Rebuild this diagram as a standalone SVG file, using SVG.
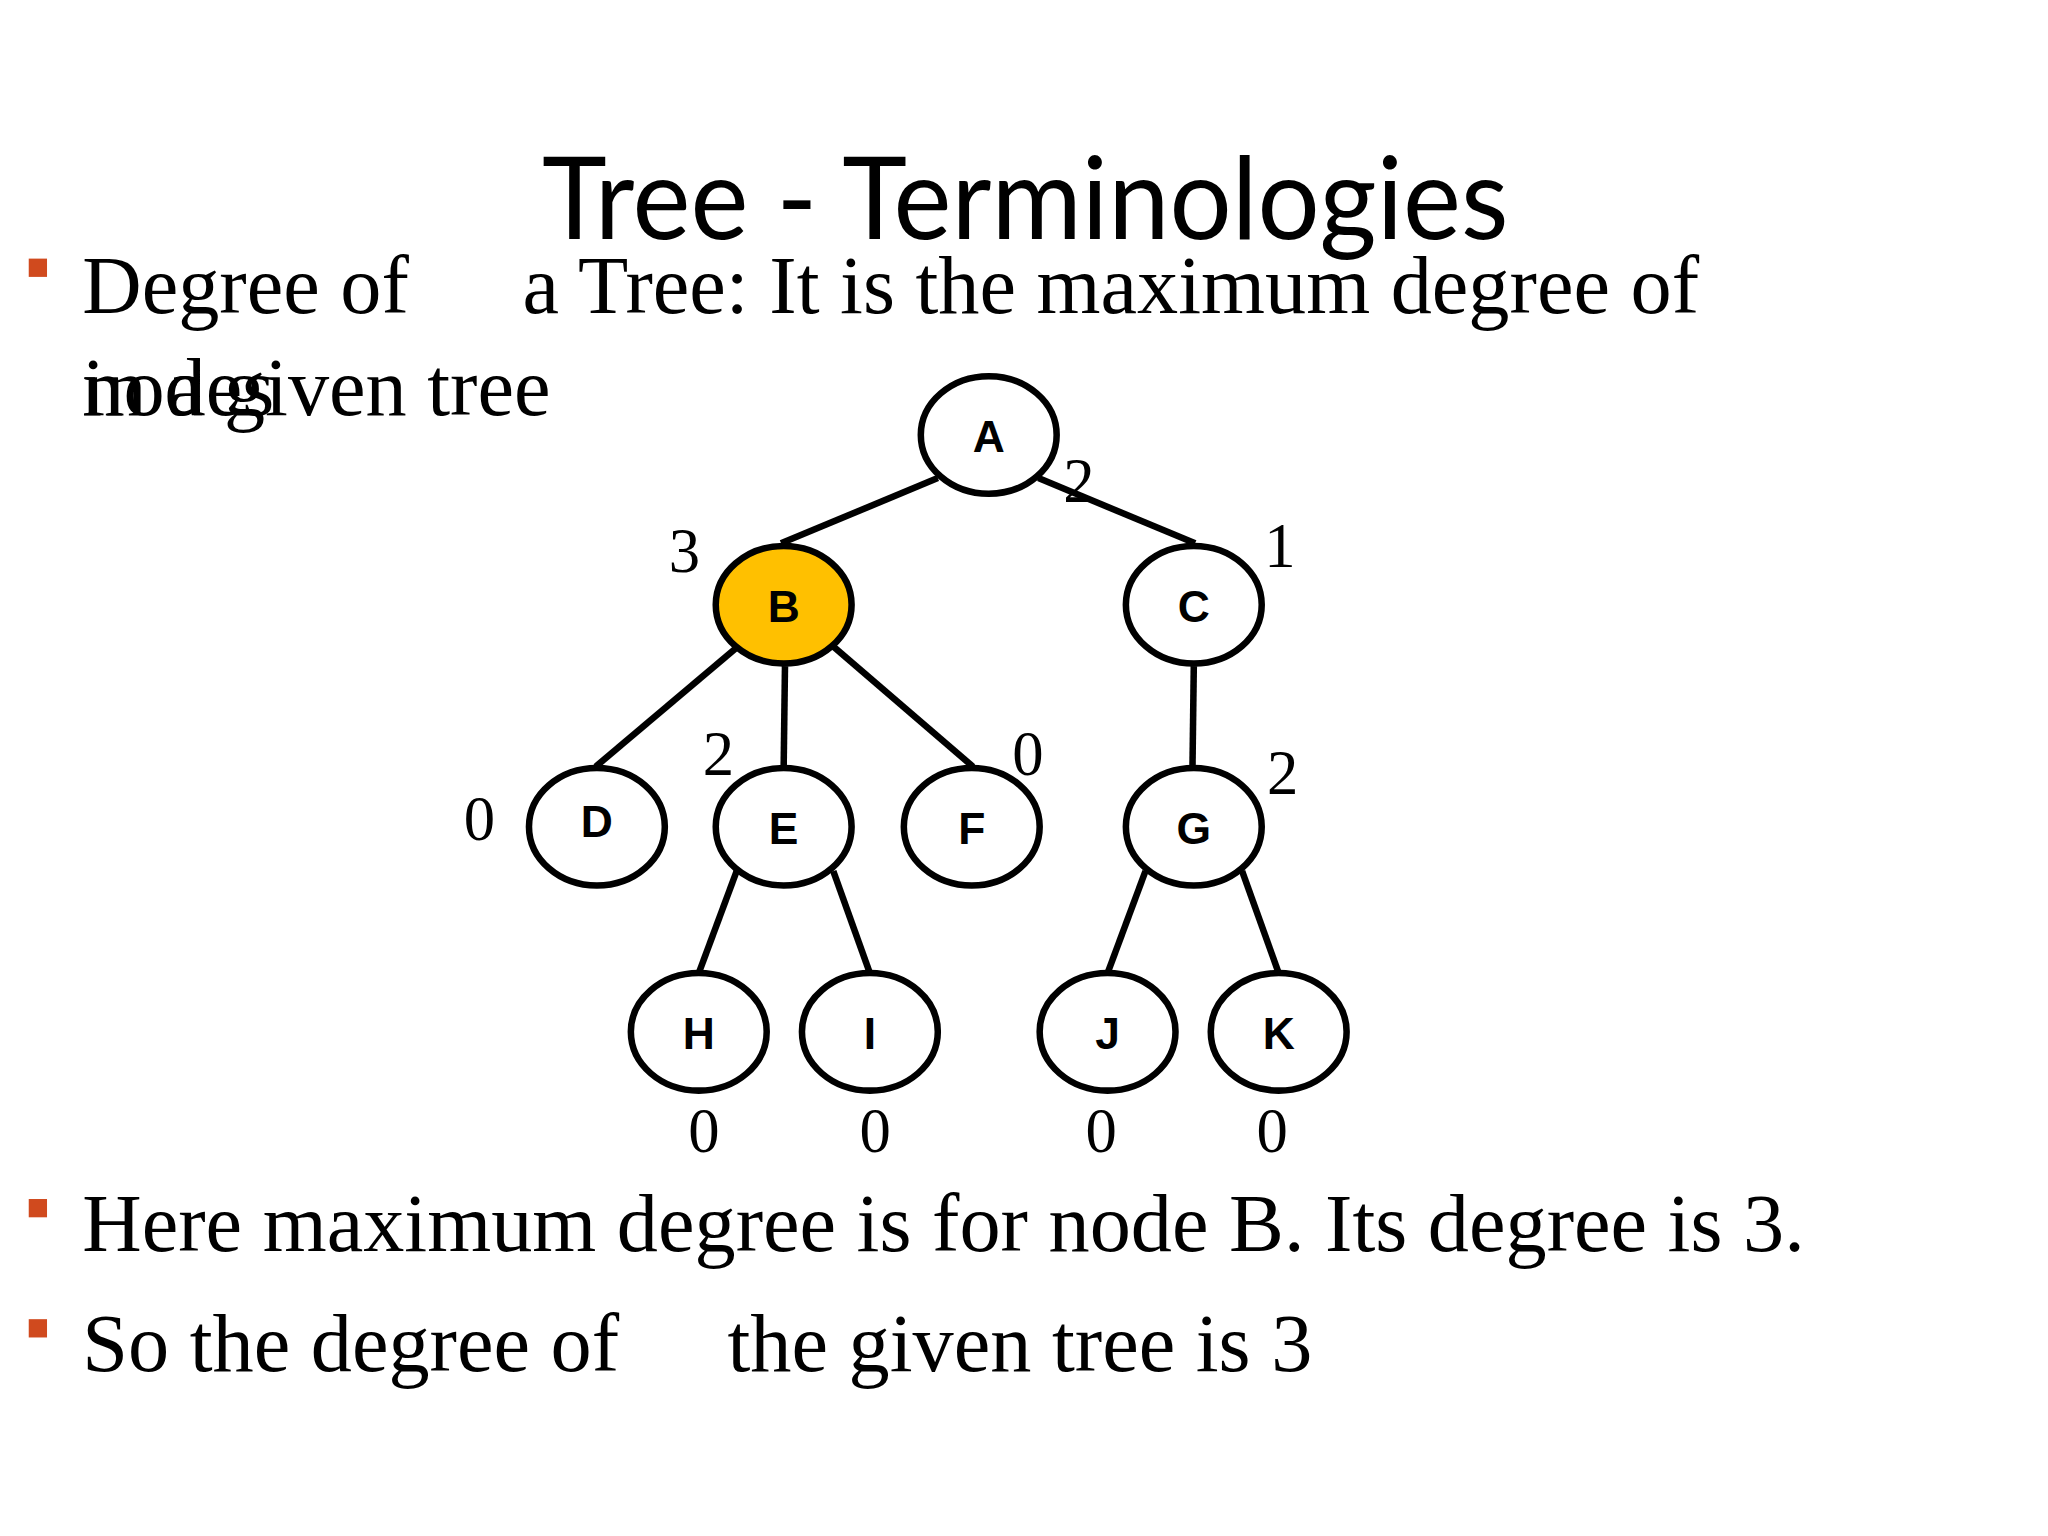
<svg xmlns="http://www.w3.org/2000/svg" width="2048" height="1536" viewBox="0 0 2048 1536">
<style>
.n{fill:#fff;stroke:#000;stroke-width:5}
.l{font-family:"Liberation Sans",Arial,sans-serif;font-weight:bold;font-size:34px;text-anchor:middle}
.d{font-family:"Liberation Serif",serif;font-size:48px;text-anchor:middle}
.t{font-family:"Liberation Serif",serif;font-size:63px}
.e{stroke:#000;stroke-width:5}
.b{fill:#D04A1E}
</style>
<rect width="2048" height="1536" fill="#fff"/>
<g transform="scale(1.30612)">
<text x="785" y="183" font-family="Lato,Open Sans,sans-serif" font-size="88" text-anchor="middle" textLength="740" lengthAdjust="spacingAndGlyphs">Tree - Terminologies</text>
<rect class="b" x="22" y="198" width="14" height="14"/>
<text class="t" x="63" y="240">Degree of</text>
<text class="t" x="400" y="240">a Tree: It is the maximum degree of</text>
<text class="t" x="63" y="318">in a given tree</text>
<text class="t" x="63" y="318">nodes</text>
<g id="edges">
<line class="e" x1="718" y1="366" x2="598" y2="416"/>
<line class="e" x1="795" y1="366" x2="915" y2="416"/>
<line class="e" x1="565" y1="495" x2="456" y2="587"/>
<line class="e" x1="601" y1="510" x2="600" y2="587"/>
<line class="e" x1="638" y1="495" x2="745" y2="587"/>
<line class="e" x1="914" y1="510" x2="913" y2="587"/>
<line class="e" x1="564" y1="667" x2="535" y2="745"/>
<line class="e" x1="638" y1="667" x2="666" y2="745"/>
<line class="e" x1="877" y1="667" x2="848" y2="745"/>
<line class="e" x1="951" y1="667" x2="979" y2="745"/>
</g>
<g id="A"><ellipse class="n" cx="757" cy="333" rx="52" ry="45"/><text class="l" x="757" y="346">A</text></g>
<g id="B"><ellipse class="n" cx="600" cy="463" rx="52" ry="45" style="fill:#FFC000"/><text class="l" x="600" y="476">B</text></g>
<g id="C"><ellipse class="n" cx="914" cy="463" rx="52" ry="45"/><text class="l" x="914" y="476">C</text></g>
<g id="D"><ellipse class="n" cx="457" cy="633" rx="52" ry="45"/><text class="l" x="457" y="641">D</text></g>
<g id="E"><ellipse class="n" cx="600" cy="633" rx="52" ry="45"/><text class="l" x="600" y="646">E</text></g>
<g id="F"><ellipse class="n" cx="744" cy="633" rx="52" ry="45"/><text class="l" x="744" y="646">F</text></g>
<g id="G"><ellipse class="n" cx="914" cy="633" rx="52" ry="45"/><text class="l" x="914" y="646">G</text></g>
<g id="H"><ellipse class="n" cx="535" cy="790" rx="52" ry="45"/><text class="l" x="535" y="803">H</text></g>
<g id="I"><ellipse class="n" cx="666" cy="790" rx="52" ry="45"/><text class="l" x="666" y="803">I</text></g>
<g id="J"><ellipse class="n" cx="848" cy="790" rx="52" ry="45"/><text class="l" x="848" y="803">J</text></g>
<g id="K"><ellipse class="n" cx="979" cy="790" rx="52" ry="45"/><text class="l" x="979" y="803">K</text></g>
<g id="degrees">
<text class="d" x="826" y="384">2</text>
<text class="d" x="524" y="438">3</text>
<text class="d" x="980" y="434">1</text>
<text class="d" x="550" y="593">2</text>
<text class="d" x="787" y="593">0</text>
<text class="d" x="367" y="643">0</text>
<text class="d" x="982" y="608">2</text>
<text class="d" x="539" y="882">0</text>
<text class="d" x="670" y="882">0</text>
<text class="d" x="843" y="882">0</text>
<text class="d" x="974" y="882">0</text>
</g>
<rect class="b" x="22" y="918" width="14" height="14"/>
<text class="t" x="63" y="958">Here maximum degree is for node B. Its degree is 3.</text>
<rect class="b" x="22" y="1010" width="14" height="14"/>
<text class="t" x="63" y="1050">So the degree of</text>
<text class="t" x="557" y="1050">the given tree is 3</text>
</g>
</svg>
